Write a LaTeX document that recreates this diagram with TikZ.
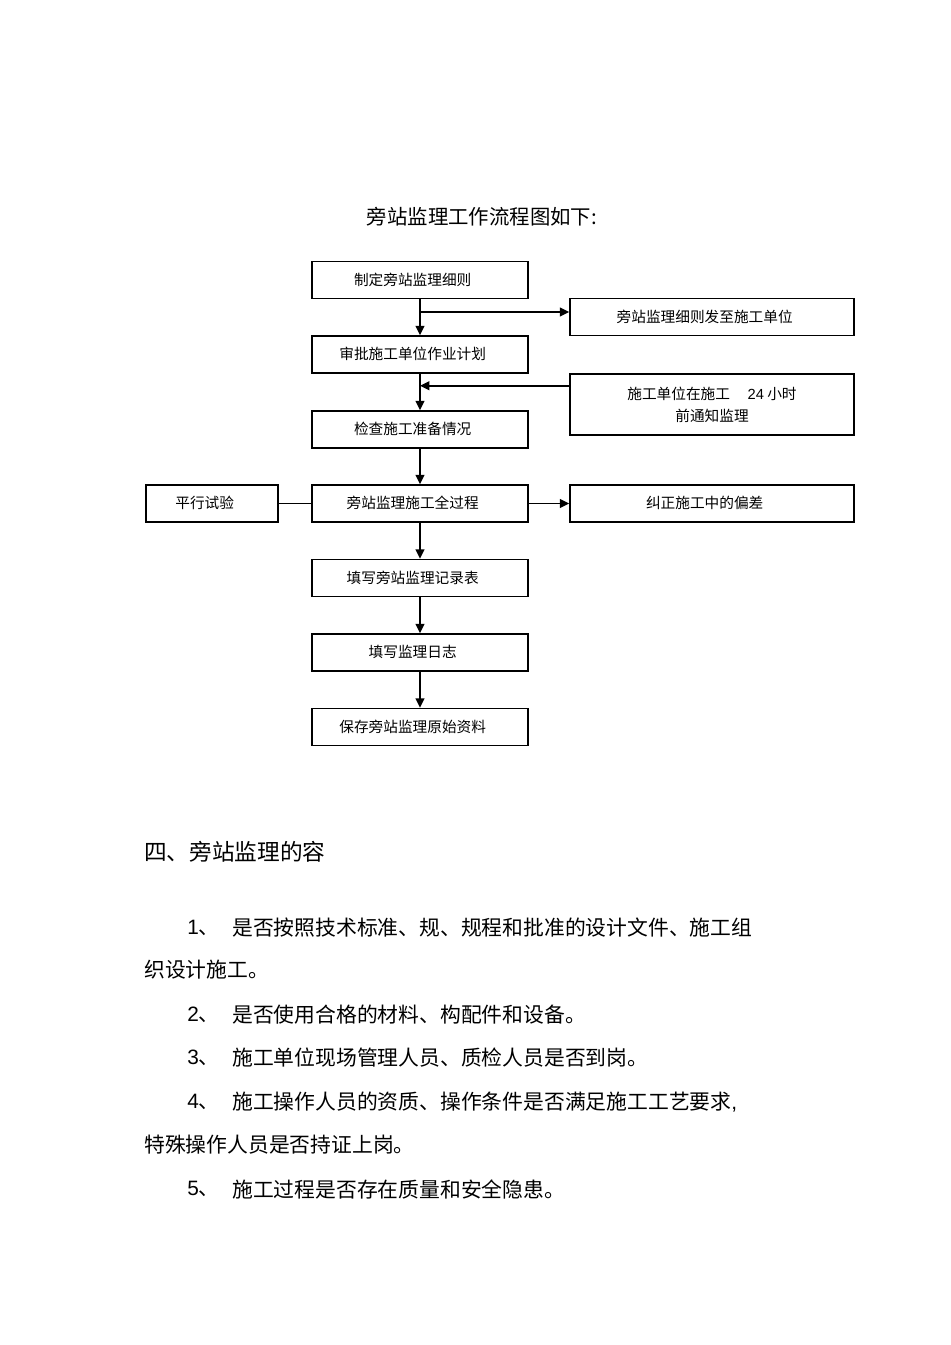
\documentclass[tikz,border=0pt]{standalone}
\usepackage{fontspec}
\setmainfont{Liberation Sans}
\newfontfamily\cjk{Noto Sans CJK SC}
\usetikzlibrary{arrows.meta,calc}
\newcommand{\bxt}[1]{\raisebox{1.5pt}{#1}\hspace{11pt}}
\tikzset{
  box/.style={draw, line width=1.1pt, inner sep=0pt, align=center, font=\cjk\fontsize{11}{16.5}\selectfont},
  mainbox/.style={box, minimum width=162pt, minimum height=27.75pt},
  sidebox/.style={box, minimum width=213pt, minimum height=27.75pt},
  arr/.style={line width=1.3pt, -{Triangle[length=7pt,width=6.5pt]}},
  ln/.style={line width=0.8pt},
  body/.style={anchor=west, inner sep=0pt, font=\cjk\fontsize{15.6}{20}\selectfont},
  num/.style={anchor=west, inner sep=0pt, font=\fontsize{15.6}{20}\selectfont},
}
\begin{document}
\begin{tikzpicture}[x=0.75pt,y=-0.75pt]
\useasboundingbox (0,0) rectangle (950,1345);
\fill[white] (0,0) rectangle (950,1345);

\node[inner sep=0pt, font=\cjk\fontsize{15.3}{18}\selectfont] (title) at (482,217) {旁站监理工作流程图如下:};

\node[mainbox] (b1) at (420,280) {\bxt{制定旁站监理细则}};
\node[sidebox] (b2) at (712,317) {\bxt{旁站监理细则发至施工单位}};
\node[mainbox] (b3) at (420,354.5) {\bxt{审批施工单位作业计划}};
\node[sidebox, minimum height=45.75pt] (b4) at (712,404.5) {施工单位在施工\hspace{1.2em}{\rmfamily 24} 小时\\前通知监理};
\node[mainbox] (b5) at (420,429.5) {\bxt{检查施工准备情况}};
\node[box, minimum width=99pt, minimum height=27.75pt] (b6) at (212,503.5) {\bxt{平行试验}};
\node[mainbox] (b7) at (420,503.5) {\bxt{旁站监理施工全过程}};
\node[sidebox] (b8) at (712,503.5) {\bxt{纠正施工中的偏差}};
\node[mainbox] (b9) at (420,578) {\bxt{填写旁站监理记录表}};
\node[mainbox] (b10) at (420,652.5) {\bxt{填写监理日志}};
\node[mainbox] (b11) at (420,727) {\bxt{保存旁站监理原始资料}};

\coordinate (s2) at ($(b2.north west)!0.37!(b2.south west)$);
\coordinate (br1) at (b1.south |- s2);
\coordinate (s4) at ($(b4.north west)!0.2!(b4.south west)$);
\coordinate (br2) at (b3.south |- s4);

\draw[arr] (b1.south) -- (b3.north);
\draw[arr] (br1) -- (s2);
\draw[arr] (b3.south) -- (b5.north);
\draw[arr] (s4) -- (br2);
\draw[arr] (b5.south) -- (b7.north);
\draw[ln] (b6.east) -- (b7.west);
\draw[arr] (b7.east) -- (b8.west);
\draw[arr] (b7.south) -- (b9.north);
\draw[arr] (b9.south) -- (b10.north);
\draw[arr] (b10.south) -- (b11.north);

\node[anchor=west, inner sep=0pt, font=\cjk\fontsize{17}{20}\selectfont] (h4) at (144,852) {四、旁站监理的容};

\node[num] (n1) at (187,928) {1\cjk 、};
\node[body] (t1) at (232,928) {是否按照技术标准、规、规程和批准的设计文件、施工组};
\node[body] (t1b) at (144,970) {织设计施工。};
\node[num] (n2) at (187,1015) {2\cjk 、};
\node[body] (t2) at (232,1015) {是否使用合格的材料、构配件和设备。};
\node[num] (n3) at (187,1058) {3\cjk 、};
\node[body] (t3) at (232,1058) {施工单位现场管理人员、质检人员是否到岗。};
\node[num] (n4) at (187,1102) {4\cjk 、};
\node[body] (t4) at (232,1102) {施工操作人员的资质、操作条件是否满足施工工艺要求{\rmfamily ,}};
\node[body] (t4b) at (144,1145) {特殊操作人员是否持证上岗。};
\node[num] (n5) at (187,1189) {5\cjk 、};
\node[body] (t5) at (232,1189) {施工过程是否存在质量和安全隐患。};
\end{tikzpicture}
\end{document}
